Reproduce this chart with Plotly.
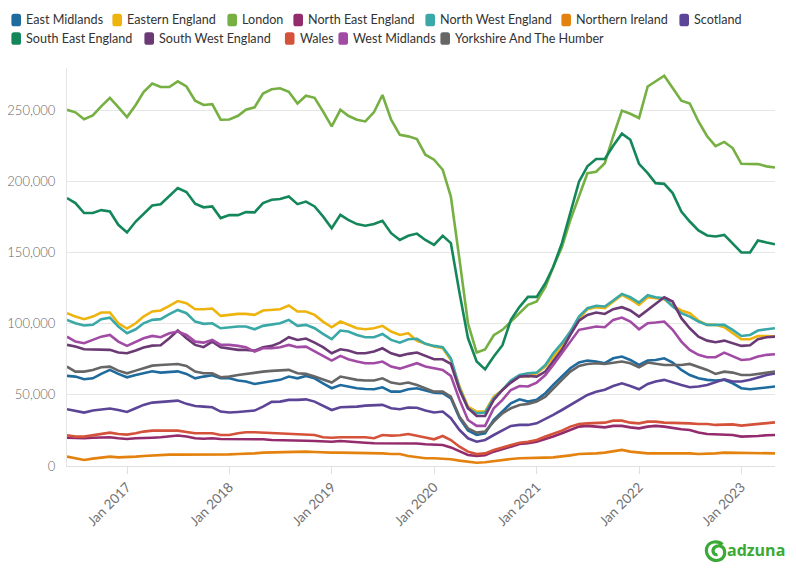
import pandas as pd
import plotly.graph_objects as go

months = pd.date_range("2016-06-01", periods=84, freq="MS")

regions = ["East Midlands", "Eastern England", "London", "North East England",
           "North West England", "Northern Ireland", "Scotland", "South East England",
           "South West England", "Wales", "West Midlands", "Yorkshire And The Humber"]

colors = ["#1f6b9e", "#efb30e", "#76b043", "#932b6c", "#3aa8a6", "#e4820f",
          "#5c4597", "#14875a", "#6b3a75", "#d5523a", "#a24ba5", "#666666"]

# values in thousands of vacancies
east_midlands = [63.4, 62.9, 61, 61.7, 64.8, 67.6, 64.8, 62.4, 64, 65.2, 66.6, 65.7, 66.2, 66.6, 64.8, 61.7, 62.9, 63.8, 61.7, 61.7, 60.1,
                 59.4, 57.7, 58.7, 59.4, 60.6, 62.9, 61.7, 63.4, 61.7, 58.2, 54.7, 57, 55.9, 54.7, 54.2, 54, 55.4, 52.3, 52.3, 54, 54.7, 53,
                 51.6, 51.2, 47.6, 33.6, 24.9, 21.8, 23, 32.4, 38.3, 44.1, 46.9, 45.3, 46.5, 51.2, 57, 62.9, 68.8, 72.8, 74.2, 73.5, 72.3,
                 75.8, 77, 74.6, 71.1, 74.2, 74.6, 75.8, 72.8, 67.6, 64, 61.7, 60.6, 60.1, 60.6, 58.2, 54.7, 54, 54.7, 55.2, 55.9]
eastern_england = [107.5, 105.1, 103.3, 105.1, 108, 108, 100.4, 96.7, 100.4, 105.1, 108.7, 109.4, 112.7, 116, 114.5, 110.3, 110.3, 110.8, 105.6, 106.3, 107,
                   107, 106.3, 109.4, 109.8, 110.3, 112.9, 108.7, 108.7, 106.3, 101.6, 97.6, 101.6, 99.3, 96.9, 96.2, 96.9, 98.6, 94.6, 92.2, 93.4, 88, 86,
                   84, 82.8, 74.6, 55.9, 41.8, 38.3, 38.3, 48.8, 53.5, 59.4, 63.4, 62.9, 65.2, 69.9, 77, 84, 93.4, 103.3, 110.3, 111.7, 111,
                   115.7, 120.4, 117.3, 113.4, 118.7, 118, 117.3, 112.7, 109.4, 107.5, 102.3, 99.3, 99.3, 97.6, 93.4, 89.2, 89.2, 91.5, 91.5, 91]
london = [250.6, 248.8, 244, 246.7, 253, 259, 252.5, 245.5, 254, 263, 269, 266.6, 266.6, 270.6, 267, 257, 254, 254.6, 243.6, 243.8, 246.4,
          250.6, 252.3, 262, 265, 265.7, 263.3, 255, 260.5, 259, 249.5, 239, 250.6, 246.4, 243.6, 242.4, 249, 261, 243.6, 233, 231.9, 230, 219,
          215.5, 208.4, 189.6, 145, 100.4, 79.8, 82, 92, 95.8, 101.6, 107.5, 113.4, 115.7, 126, 140, 154, 173, 189.6, 206, 207, 213,
          232, 250, 247.8, 244.8, 267, 270.6, 274.6, 266, 257, 255, 242.4, 232, 225, 228, 223.7, 212.6, 212.4, 212.4, 210.8, 210]
north_east = [19.9, 19.5, 19.5, 19.9, 20.2, 20.2, 19.5, 19, 19.5, 19.9, 19.9, 20.2, 20.7, 21.4, 20.7, 19.5, 19.2, 19.5, 19, 19, 18.8,
              18.8, 18.8, 18.8, 18.3, 18.3, 18.3, 17.8, 17.8, 17.6, 17.1, 17.1, 17.6, 17.1, 16.9, 16.4, 16, 16, 15.7, 16, 16, 15.8, 15.3,
              14.8, 14.8, 13.1, 10.1, 7.7, 7, 7.5, 10.1, 11.7, 13.6, 15.5, 16, 17.1, 18.8, 20.7, 23, 25.3, 27.7, 28.2, 27.5, 27.2,
              28.2, 28.2, 27.2, 26.5, 27.7, 28.2, 27.7, 26.5, 25.8, 25.3, 23.5, 22.5, 22.3, 22.3, 21.8, 20.7, 20.7, 21.1, 21.6, 21.8]
north_west = [102.8, 100.4, 98.8, 99.3, 103.3, 104.4, 98.1, 93.4, 96.2, 100.4, 102.8, 103.3, 106.8, 109.8, 107.5, 101.6, 100, 100.4, 96.9, 97.6, 98.1,
              98.1, 96.2, 98.6, 99.3, 100.4, 102.8, 98.6, 99.3, 96.9, 92.9, 89.2, 95.3, 94.6, 92.2, 90.6, 90.6, 92.9, 88.7, 86.8, 89.2, 89.5, 86,
              84.5, 83.6, 75.8, 54.7, 40.6, 37.1, 37.6, 47.6, 53.5, 60.1, 64, 65.2, 65.7, 71.1, 79.3, 86.4, 94.6, 105.1, 111, 112.7, 112.2,
              116.4, 121.1, 118.7, 115, 120.2, 118.7, 118, 112.2, 107.5, 105.1, 101.6, 99.3, 99.3, 99.3, 95.8, 91.5, 92.2, 95.3, 96.2, 96.9]
northern_ireland = [6.6, 5.2, 4.2, 5.2, 6.1, 6.6, 6.1, 6.1, 6.6, 7, 7.5, 7.7, 8, 8, 8, 7.7, 8, 8, 8, 8.2, 8.4,
                    8.4, 8.9, 9.4, 9.6, 9.9, 10.1, 10.1, 10.1, 9.9, 9.4, 9.4, 9.4, 9.4, 9.4, 9.4, 8.9, 8.9, 8.4, 8.4, 7, 6.1, 5.4,
                    5.4, 5.2, 4.7, 3.8, 3.1, 2.3, 2.6, 3.5, 4.2, 4.9, 5.4, 5.4, 5.4, 5.9, 6.1, 6.6, 7.5, 8.4, 8.9, 8.9, 9.4,
                    10.3, 11.3, 10.1, 9.4, 8.9, 8.9, 8.9, 9.4, 9.4, 8.9, 8.4, 8.4, 8.9, 9.4, 9.4, 8.9, 8.9, 8.9, 8.9, 8.9]
scotland = [39.9, 39, 37.6, 39, 39.9, 40.4, 39.4, 38, 40.6, 43, 44.6, 45.1, 46, 46, 43.7, 42.2, 41.8, 41.3, 38.3, 37.6, 38,
            38.3, 39, 41.8, 45.1, 45.3, 46.5, 46.5, 46.9, 45.3, 42.2, 39.4, 41.3, 41.3, 41.8, 42.5, 43, 43, 40.6, 39.9, 41.1, 41, 39,
            37.6, 38.3, 33.6, 25.3, 19.5, 17.1, 18.3, 21.8, 25.3, 28.2, 28.9, 28.9, 30, 32.9, 35.9, 39.4, 43, 46.9, 50, 52.3, 53.7,
            56.3, 58.2, 56.3, 54, 57.7, 59.4, 60.6, 58.7, 57, 55.4, 55.9, 57, 58.7, 61, 59.4, 59.4, 60.6, 62.4, 64, 65.2]
south_east = [188.5, 185, 178, 178, 180, 179, 169.7, 164.3, 172, 177.4, 183.3, 184.2, 189.6, 195.5, 192.7, 184.5, 182, 182.6, 174.4, 176.5, 176.5,
              178.6, 178.4, 185, 187.3, 187.8, 189.6, 184.2, 186, 182.6, 175.6, 167.3, 176.7, 173.2, 170.2, 169, 170.2, 172.5, 163.8, 159, 162, 163.5, 159,
              155.6, 162, 156.8, 121.6, 90, 73.5, 68, 77, 85, 102.8, 112, 119, 119, 128.6, 140, 156.8, 178, 200, 210.8, 216, 216,
              225.3, 233.8, 229.5, 212.6, 206, 199, 198.5, 192, 179, 172, 165.7, 162.2, 161.5, 162.6, 156.3, 150.2, 150.2, 158.7, 157.2, 156]
south_west = [85.2, 84, 82.1, 82.1, 82.1, 81.7, 79.8, 79.3, 81.2, 83.3, 84.7, 85, 89.9, 95.3, 89.9, 85.2, 83.6, 87.5, 83.6, 82.6, 81.7,
              81.7, 81.2, 83.6, 84.5, 86.8, 90.6, 88.7, 89.7, 86.8, 83.6, 79.3, 82.1, 81.2, 79.3, 79.3, 80.5, 82.8, 79.3, 77.5, 78.9, 79.8, 77.5,
              75.1, 75.1, 71.8, 53.5, 40.6, 35.2, 35.2, 46.5, 53.5, 58.7, 62.9, 63.4, 62.9, 66.4, 73.5, 81.7, 92.2, 102.3, 106.3, 108, 107,
              110.3, 111.7, 109.4, 105.1, 109.8, 114.5, 118.7, 115.7, 104, 96.9, 91, 88.2, 87.1, 88.2, 86.4, 84.5, 85, 89.2, 90.6, 91]
wales = [21.6, 20.7, 20.7, 21.6, 23, 23.5, 22.5, 22.1, 23, 24.2, 24.9, 24.9, 24.9, 24.9, 23.9, 23, 23, 23, 21.8, 21.8, 23,
         23.7, 23.7, 23.5, 23, 23, 22.5, 22.5, 22.5, 21.8, 20.2, 19.9, 20.2, 20.2, 20.7, 20.2, 19.5, 21.8, 21.4, 21.6, 22.5, 21.5, 20,
         18.8, 21.1, 18.3, 13.6, 10.1, 8.4, 8.9, 11.3, 13.1, 14.8, 16.4, 17.1, 18.3, 20.7, 22.5, 24.9, 27.7, 29.6, 30, 30.3, 30.5,
         31.9, 31.9, 30.5, 30, 31.2, 31.2, 30.5, 30.5, 30, 30, 29.6, 29.6, 28.9, 28.9, 29.3, 28.4, 28.9, 29.6, 30, 30.7]
west_midlands = [91, 87.5, 86.4, 88.7, 91, 92.2, 87.5, 84.5, 87.5, 89.9, 91.5, 90.6, 93.4, 94.6, 92.2, 87.5, 86.8, 88.7, 85.2, 85.2, 84.5,
                 83.6, 80.5, 82.8, 82.8, 83.6, 85.2, 83.6, 84, 80.5, 77.5, 74.2, 77.5, 75.1, 73.5, 72.3, 72.3, 73.5, 69.9, 68.5, 70.4, 72.3, 70,
                 68.8, 67.6, 63.4, 46.5, 32.4, 28.2, 28.2, 40.6, 46.5, 53.5, 56.3, 55.9, 58.7, 64, 71.1, 79.3, 87.5, 95.8, 96.9, 98.1, 97.6,
                 102.8, 104.4, 101.6, 96.2, 100.4, 100.9, 101.6, 95.8, 87.5, 81.7, 78.2, 76.5, 76.5, 79.8, 77.5, 74.6, 75.1, 77, 78.2, 78.6]
yorkshire = [69.9, 66.4, 66.4, 67.6, 69.5, 69.9, 67.1, 65.2, 67.1, 68.8, 70.6, 71.1, 71.6, 71.8, 70.4, 66.4, 65.2, 65.2, 62.4, 62.9, 64,
             64.8, 65.7, 66.4, 66.9, 67.1, 67.6, 65.2, 64.8, 62.9, 61, 58.7, 62.9, 61.7, 60.6, 60.1, 60.1, 61.7, 58.7, 57.7, 58.7, 57, 54.7,
             52.3, 52.3, 48.8, 34.7, 26.5, 23.5, 24.2, 31.2, 37.1, 40.6, 42.9, 43.7, 45.3, 48.8, 54.7, 60.6, 66.4, 70.4, 71.8, 72.3, 71.8,
             72.8, 73.5, 72.3, 69.5, 72.8, 71.8, 71.1, 71.1, 71.1, 71.8, 69.9, 67.6, 64.8, 66.4, 65.7, 64, 64, 64.8, 65.7, 66.4]

series = [east_midlands, eastern_england, london, north_east, north_west, northern_ireland,
          scotland, south_east, south_west, wales, west_midlands, yorkshire]

# The page places the figure 8px in from the top-left (default body margin),
# so the figure is sized to end exactly at the window edge and all pixel
# positions below are screen positions minus that offset.
OFF = 8
W, H = 796 - OFF, 575 - OFF
L, R, T, B = 67 - OFF, 775 - OFF, 68 - OFF, 466 - OFF
PW, PH = R - L, B - T

def px(x):
    return (x - OFF - L) / PW

def py(y):
    return (B - (y - OFF)) / PH

FONT = "Lato"

fig = go.Figure()
for name, vals, col in zip(regions, series, colors):
    fig.add_trace(go.Scatter(
        x=months, y=[v * 1000 for v in vals], name=name, mode="lines",
        line=dict(color=col, width=2.6), showlegend=False,
        hovertemplate="%{x|%b %Y}<br>" + name + ": %{y:,.0f}<extra></extra>"))

# custom legend: rounded swatches + labels (screen x of label start)
legend_rows = [
    [(0, 25), (1, 126), (2, 241), (3, 307), (4, 439), (5, 575), (6, 693)],
    [(7, 25), (8, 158), (9, 298.5), (10, 352), (11, 454)],
]
row_y = [20, 38.5]
shapes = []
annotations = []
w2, h2, r = 4.8, 6.3, 2.6
path = (f"M {-w2 + r},{-h2} L {w2 - r},{-h2} Q {w2},{-h2} {w2},{-h2 + r} "
        f"L {w2},{h2 - r} Q {w2},{h2} {w2 - r},{h2} L {-w2 + r},{h2} "
        f"Q {-w2},{h2} {-w2},{h2 - r} L {-w2},{-h2 + r} Q {-w2},{-h2} {-w2 + r},{-h2} Z")
for row, yy in zip(legend_rows, row_y):
    for idx, tx in row:
        shapes.append(dict(type="path", xref="paper", yref="paper",
                           xsizemode="pixel", ysizemode="pixel",
                           xanchor=px(tx - 8.8), yanchor=py(yy), path=path,
                           fillcolor=colors[idx], line=dict(width=0)))
        annotations.append(dict(x=px(tx - 1), y=py(yy), xref="paper", yref="paper",
                                text=regions[idx], showarrow=False,
                                xanchor="left", yanchor="middle",
                                font=dict(family=FONT, size=12.6, color="#333333")))

# adzuna logo
logo_green = "#3aa935"
cx, cy = 715.5, 550.5
shapes.append(dict(type="path", xref="paper", yref="paper",
                   xsizemode="pixel", ysizemode="pixel",
                   xanchor=px(cx), yanchor=py(cy),
                   path="M 7,6 C 3,10 -7,10 -9,2 C -10,-6 -4,-10 1,-10 C 7,-10 10,-5 9,0 "
                        "C 8,5 2,6 -1,3 C -4,0 -2,-5 2,-4",
                   line=dict(color=logo_green, width=3.2)))
annotations.append(dict(x=px(725), y=py(550), xref="paper", yref="paper",
                        text="<b>adzuna</b>", showarrow=False,
                        xanchor="left", yanchor="middle",
                        font=dict(family="Open Sans", size=16, color=logo_green)))

fig.update_layout(
    width=W, height=H,
    margin=dict(l=L, r=W - R, t=T, b=H - B, pad=0, autoexpand=False),
    plot_bgcolor="white", paper_bgcolor="white",
    font=dict(family=FONT, color="#666666"),
    shapes=shapes, annotations=annotations,
    showlegend=False,
    hovermode="x",
)
fig.update_xaxes(
    range=[months[0], months[-1]], automargin=False,
    tickformat="%b %Y", dtick="M12", tick0="2017-01-01",
    tickangle=-45, tickfont=dict(family=FONT, size=13.5, color="#707070"),
    showgrid=False, showline=True, linecolor="#e0e0e0", linewidth=1,
    ticks="outside", ticklen=7, tickcolor="#e0e0e0", zeroline=False,
)
fig.update_yaxes(
    range=[0, 280000], tickvals=[0, 50000, 100000, 150000, 200000, 250000],
    tickformat=",", automargin=False,
    tickfont=dict(family=FONT, size=13, color="#666666", weight=300),
    showgrid=True, gridcolor="#e6e6e6", gridwidth=1,
    showline=True, linecolor="#e6e6e6", linewidth=1,
    zeroline=False, ticks="outside", ticklen=8, tickcolor="rgba(0,0,0,0)",
)

fig.write_html("out.html")
